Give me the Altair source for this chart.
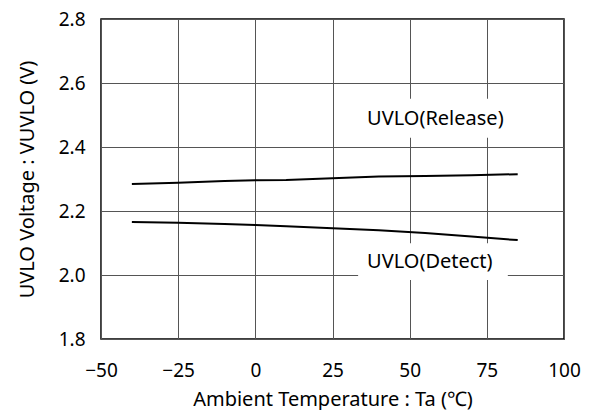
import altair as alt
import pandas as pd

# Data
temps = [-40, -25, -10, 0, 10, 25, 40, 55, 70, 85]
release_v = [2.284, 2.288, 2.294, 2.296, 2.297, 2.302, 2.308, 2.309, 2.312, 2.315]
detect_v = [2.166, 2.163, 2.159, 2.156, 2.152, 2.146, 2.140, 2.131, 2.120, 2.109]

label_text = ["UVLO(Release)", "UVLO(Detect)"]
label_x = [36.2, 36.2]
label_y = [2.488, 2.040]
box_x1 = [33.3, 33.3]
box_x2 = [84.0, 81.8]
box_y1 = [2.429, 1.984]
box_y2 = [2.551, 2.099]

x_ticks = [-50, -25, 0, 25, 50, 75, 100]
y_ticks = [1.8, 2.0, 2.2, 2.4, 2.6, 2.8]

FONT = "Noto Sans, Noto Sans CJK JP"
FS = 19
FS_TEXT = 20

lines = pd.DataFrame({
    "temp": temps * 2,
    "v": release_v + detect_v,
    "series": ["Release"] * len(temps) + ["Detect"] * len(temps),
})
labels = pd.DataFrame({"text": label_text, "x": label_x, "y": label_y,
                       "x1": box_x1, "x2": box_x2, "y1": box_y1, "y2": box_y2})

xs = alt.Scale(domain=[-50, 100], nice=False, zero=False)
ys = alt.Scale(domain=[1.8, 2.8], nice=False, zero=False)

line = alt.Chart(lines).mark_line(color="black", strokeWidth=2).encode(
    x=alt.X("temp:Q", scale=xs,
            axis=alt.Axis(values=x_ticks, title="Ambient Temperature : Ta (℃)",
                          labelPadding=22, titleY=66, titleBaseline="alphabetic")),
    y=alt.Y("v:Q", scale=ys,
            axis=alt.Axis(values=y_ticks, format=".1f", title="UVLO Voltage : VUVLO (V)",
                          labelPadding=16, titleX=-68, titleBaseline="alphabetic")),
    detail="series:N",
)

boxes = alt.Chart(labels).mark_rect(color="white").encode(
    x=alt.X("x1:Q", scale=xs), x2="x2:Q",
    y=alt.Y("y1:Q", scale=ys), y2="y2:Q",
)

texts = alt.Chart(labels).mark_text(
    align="left", baseline="middle", font=FONT, fontSize=FS_TEXT, color="black"
).encode(
    x=alt.X("x:Q", scale=xs), y=alt.Y("y:Q", scale=ys), text="text:N"
)

chart = alt.layer(line, boxes, texts).properties(
    width=463, height=320,
    background="white",
    autosize=alt.AutoSizeParams(type="none"),
    padding={"left": 93, "top": 11, "right": 20, "bottom": 71},
).configure_view(
    stroke="black", strokeWidth=1.5
).configure_axis(
    grid=True, gridColor="#555555", gridWidth=1, gridOpacity=1,
    domain=False, ticks=False, labelFlush=False, labelOverlap=False,
    labelFont=FONT, labelFontSize=FS, labelColor="black",
    titleFont=FONT, titleFontSize=FS_TEXT, titleFontWeight="normal", titleColor="black",
)

chart.save("out.html", embed_options={"renderer": "svg", "actions": False})
